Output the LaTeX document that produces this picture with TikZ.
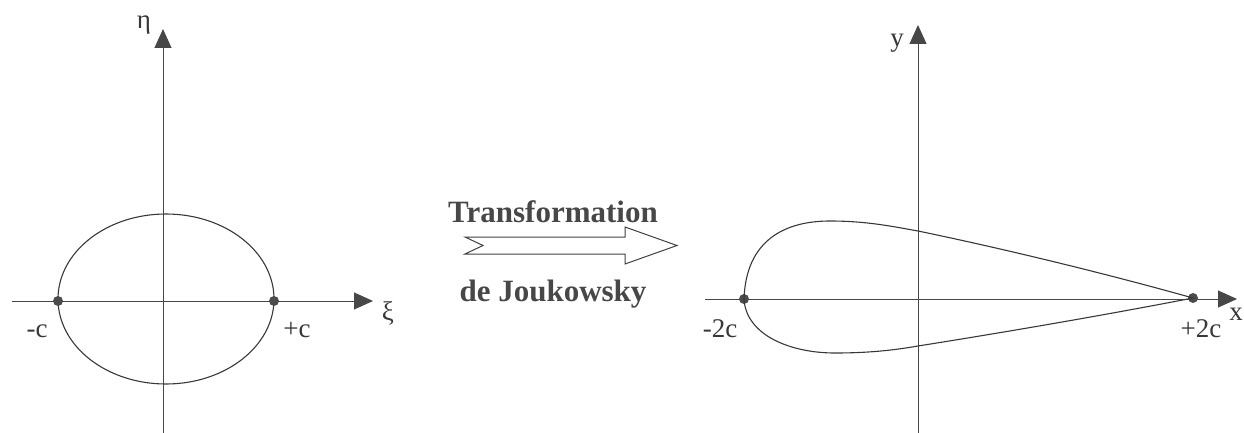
\documentclass[tikz,border=0pt]{standalone}
\usepackage{fontspec}
\setmainfont{Liberation Serif}
\usetikzlibrary{arrows.meta}

\begin{document}
\begin{tikzpicture}[x=1pt, y=-1pt,
  axis/.style={draw=black!72, line width=1pt, -{Triangle[length=19pt, width=17pt]}},
  curve/.style={draw=black!78, line width=1.1pt},
  dot/.style={circle, fill=black!70, inner sep=0pt, minimum size=10pt},
  lbl/.style={font=\fontsize{27}{27}\selectfont, text=black!78, inner sep=0pt},
  title/.style={font=\fontsize{31}{31}\selectfont\bfseries, text=black!72, inner sep=0pt},
  hollow/.style={draw=black!75, line width=1pt, line join=miter}]
  \useasboundingbox (0,0) rectangle (1244,433);
  % plan zeta
  \draw[axis] (12,301) -- (373,301);
  \draw[axis] (163,433) -- (163,29);
  \draw[curve] (166,299) ellipse [x radius=108pt, y radius=85pt];
  \node[dot] (mc) at (58,301) {};
  \node[dot] (pc) at (274,301) {};
  \node[lbl, anchor=base] (lmc) at (37,337) {-c};
  \node[lbl, anchor=base] (lpc) at (297,337) {+c};
  \node[lbl] (eta) at (144,25) {η};
  \node[lbl] (xi) at (388,313) {ξ};

  % fleche de transformation
  \node[title, anchor=base] (tr) at (553,222) {Transformation};
  \node[title, anchor=base] (jk) at (553,301) {de Joukowsky};
  \draw[hollow] (465,237) -- (625,237) -- (625,227) -- (677,245.5)
    -- (625,264) -- (625,254) -- (465,254) -- (483,245.5) -- cycle;

  % plan z
  \draw[axis] (705,299) -- (1237,299);
  \draw[axis] (918,433) -- (918,25);
  \node[dot] (le) at (744,299) {};
  \node[dot] (te) at (1193,298) {};
  \draw[curve] (le.center) .. controls (746,240) and (785,221) .. (830,221)
    .. controls (868,221) and (895,227) .. (918,231)
    .. controls (1000,248) and (1100,272) .. (te.center)
    .. controls (1100,316) and (1000,333) .. (918,346)
    .. controls (895,350) and (870,353) .. (835,353)
    .. controls (790,353) and (746,335) .. (le.center);
  \node[lbl, anchor=base] (lle) at (720,337) {-2c};
  \node[lbl, anchor=base] (lte) at (1201,337) {+2c};
  \node[lbl, anchor=base] (lx) at (1236,320) {x};
  \node[lbl, anchor=base] (ly) at (897,47) {y};
\end{tikzpicture}
\end{document}
